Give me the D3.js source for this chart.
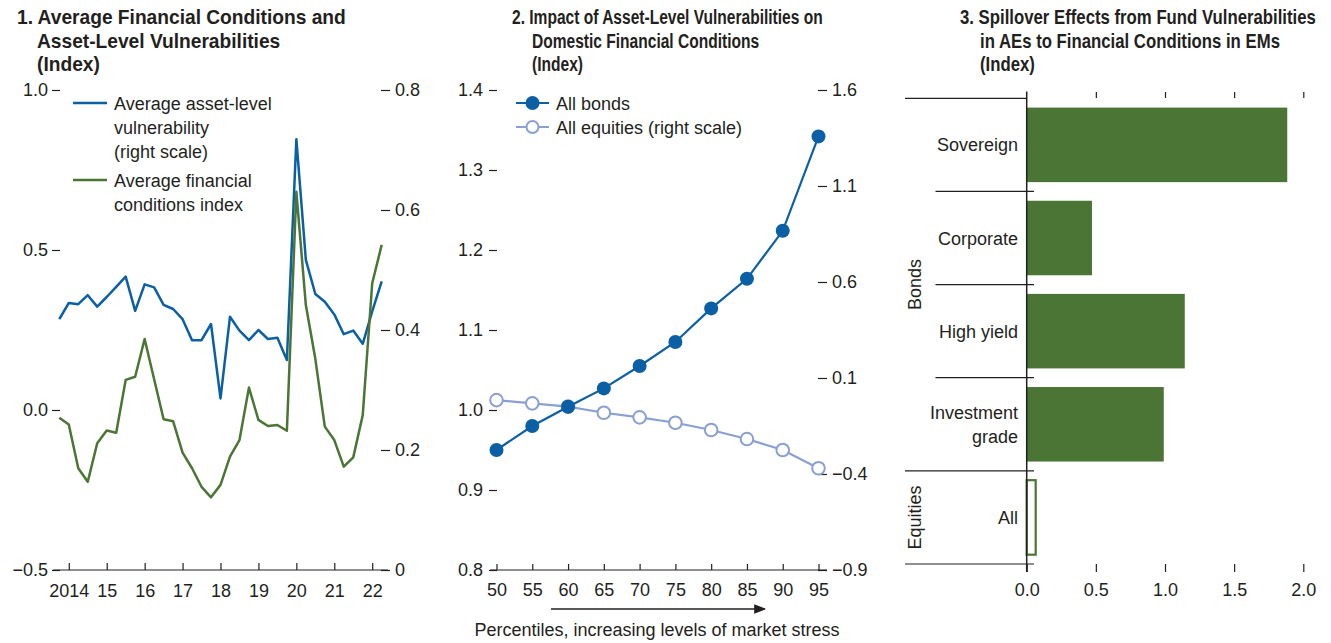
<!DOCTYPE html>
<html>
<head>
<meta charset="utf-8">
<script src="https://cdn.jsdelivr.net/npm/d3@7"></script>
<style>
  body { margin: 0; background: #fff; }
  svg text { font-family: "Liberation Sans Narrow", "Arial Narrow", "Liberation Sans", sans-serif; fill: #231f20; }
  .title { font-weight: bold; font-size: 19.5px; }
  .tick text { font-size: 18px; }
  .lbl { font-size: 18px; }
</style>
</head>
<body>
<div id="chart"></div>
<script>
// Panel 1 data: quarterly, 2013Q4 to 2022Q2
var quarters = ["2013Q4",
  "2014Q1","2014Q2","2014Q3","2014Q4",
  "2015Q1","2015Q2","2015Q3","2015Q4",
  "2016Q1","2016Q2","2016Q3","2016Q4",
  "2017Q1","2017Q2","2017Q3","2017Q4",
  "2018Q1","2018Q2","2018Q3","2018Q4",
  "2019Q1","2019Q2","2019Q3","2019Q4",
  "2020Q1","2020Q2","2020Q3","2020Q4",
  "2021Q1","2021Q2","2021Q3","2021Q4",
  "2022Q1","2022Q2"];
var assetVuln = [0.418,0.445,0.443,0.458,0.439,0.455,0.472,0.489,0.432,0.476,0.471,0.442,0.435,0.418,0.383,0.383,0.410,0.286,0.422,0.399,0.383,0.400,0.385,0.387,0.350,0.718,0.517,0.460,0.447,0.426,0.393,0.399,0.377,0.431,0.481];
var fci = [-0.024,-0.045,-0.182,-0.224,-0.104,-0.064,-0.071,0.094,0.104,0.222,0.096,-0.029,-0.035,-0.133,-0.182,-0.240,-0.273,-0.234,-0.146,-0.094,0.070,-0.031,-0.050,-0.047,-0.065,0.682,0.328,0.160,-0.052,-0.094,-0.177,-0.148,-0.016,0.396,0.516];
var yearTicks = [2014,2015,2016,2017,2018,2019,2020,2021,2022];
var yearLabels = ["2014","15","16","17","18","19","20","21","22"];

// Panel 2 data
var percentiles = [50,55,60,65,70,75,80,85,90,95];
var allBonds = [0.950,0.980,1.004,1.027,1.055,1.085,1.127,1.164,1.224,1.342];
var allEquities = [-0.015,-0.032,-0.049,-0.081,-0.105,-0.133,-0.171,-0.218,-0.275,-0.370];

// Panel 3 data
var spillCats = ["Sovereign","Corporate","High yield","Investment grade","All"];
var spillVals = [1.884,0.472,1.143,0.991,0.065];
var spillGroups = [{name:"Bonds", cats:["Sovereign","Corporate","High yield","Investment grade"]},
                   {name:"Equities", cats:["All"]}];

var blue = "#0b5fa5", green = "#4a7535", lightBlue = "#8aa0d2", ink = "#231f20";

var svg = d3.select("#chart").append("svg")
    .attr("width", 1331).attr("height", 643);

function styleAxis(g) {
  g.select(".domain").remove();
  g.selectAll(".tick line").attr("stroke", ink).attr("stroke-width", 1.2);
}
// titles are squeezed sideways to the reference width (the condensed face is not installed)
function titleBlock(x, lines, firstWidth) {
  var factor = null;
  lines.forEach(function(s, i) {
    var x0 = i == 0 ? x : x + 20, y0 = 24 + i * 23.5;
    var t = svg.append("text").attr("class", "title").text(s);
    var w = t.node().getComputedTextLength();
    if (factor === null) factor = Math.min(1, firstWidth / w);
    t.attr("transform", "translate(" + x0 + "," + y0 + ") scale(" + factor + ",1)");
  });
}

// ---------- Panel 1 ----------
titleBlock(17, ["1. Average Financial Conditions and", "Asset-Level Vulnerabilities", "(Index)"], 329);

var x1 = d3.scaleLinear().domain([2013.75, 2022.25]).range([59.3, 381.7]);
var y1L = d3.scaleLinear().domain([-0.5, 1]).range([570, 90]);
var y1R = d3.scaleLinear().domain([0, 0.8]).range([570, 90]);
var qNum = quarters.map(function(q) { return +q.slice(0, 4) + (+q.slice(5) - 1) / 4; });

svg.append("g").attr("transform", "translate(60,0)")
  .call(d3.axisLeft(y1L).tickValues([-0.5, 0, 0.5, 1]).tickFormat(d3.format(".1f")).tickSize(8).tickPadding(4))
  .call(styleAxis);
svg.append("g").attr("transform", "translate(381,0)")
  .call(d3.axisRight(y1R).tickValues([0, 0.2, 0.4, 0.6, 0.8]).tickFormat(function(d) { return d == 0 ? "0" : d.toFixed(1); }).tickSize(9).tickPadding(5))
  .call(styleAxis);
svg.append("line").attr("x1", 53).attr("x2", 388).attr("y1", 570).attr("y2", 570)
  .attr("stroke", ink).attr("stroke-width", 1.2);
svg.append("g").attr("transform", "translate(0,570)")
  .call(d3.axisBottom(x1).tickValues(yearTicks).tickFormat(function(d, i) { return yearLabels[i]; }).tickSizeInner(-7).tickSizeOuter(0).tickPadding(14))
  .call(styleAxis);

var line1R = d3.line().x(function(d, i) { return x1(qNum[i]); }).y(function(d) { return y1R(d); });
var line1L = d3.line().x(function(d, i) { return x1(qNum[i]); }).y(function(d) { return y1L(d); });
svg.append("path").datum(assetVuln).attr("d", line1R).attr("fill", "none")
  .attr("stroke", blue).attr("stroke-width", 2.5).attr("stroke-linejoin", "round");
svg.append("path").datum(fci).attr("d", line1L).attr("fill", "none")
  .attr("stroke", green).attr("stroke-width", 2.5).attr("stroke-linejoin", "round");

// legend 1
var leg1 = [{c: blue, y: 103, lines: ["Average asset-level", "vulnerability", "(right scale)"]},
            {c: green, y: 180, lines: ["Average financial", "conditions index"]}];
leg1.forEach(function(l) {
  svg.append("line").attr("x1", 73).attr("x2", 107).attr("y1", l.y).attr("y2", l.y)
    .attr("stroke", l.c).attr("stroke-width", 2.5);
  l.lines.forEach(function(s, i) {
    svg.append("text").attr("class", "lbl").attr("x", 114).attr("y", l.y + 6.5 + i * 24).text(s);
  });
});

// ---------- Panel 2 ----------
titleBlock(512, ["2. Impact of Asset-Level Vulnerabilities on", "Domestic Financial Conditions", "(Index)"], 311);

var x2 = d3.scaleLinear().domain([50, 95]).range([496.5, 818.5]);
var y2L = d3.scaleLinear().domain([0.8, 1.4]).range([570, 90]);
var y2R = d3.scaleLinear().domain([-0.9, 1.6]).range([570, 90]);

svg.append("g").attr("transform", "translate(497,0)")
  .call(d3.axisLeft(y2L).tickValues([0.8, 0.9, 1.0, 1.1, 1.2, 1.3, 1.4]).tickFormat(d3.format(".1f")).tickSize(8).tickPadding(6))
  .call(styleAxis);
svg.append("g").attr("transform", "translate(818,0)")
  .call(d3.axisRight(y2R).tickValues([-0.9, -0.4, 0.1, 0.6, 1.1, 1.6]).tickFormat(d3.format(".1f")).tickSize(9).tickPadding(5))
  .call(styleAxis);
svg.append("line").attr("x1", 490).attr("x2", 827).attr("y1", 570).attr("y2", 570)
  .attr("stroke", ink).attr("stroke-width", 1.2);
svg.append("g").attr("transform", "translate(0,570)")
  .call(d3.axisBottom(x2).tickValues(percentiles).tickFormat(d3.format("d")).tickSizeInner(-6).tickSizeOuter(0).tickPadding(13))
  .call(styleAxis);

// arrow + axis title
svg.append("defs").append("marker").attr("id", "arr")
  .attr("viewBox", "0 0 10 10").attr("refX", 9).attr("refY", 5)
  .attr("markerWidth", 8).attr("markerHeight", 8).attr("orient", "auto")
  .append("path").attr("d", "M0,1 L10,5 L0,9 Z").attr("fill", ink);
svg.append("line").attr("x1", 551).attr("x2", 765).attr("y1", 609).attr("y2", 609)
  .attr("stroke", ink).attr("stroke-width", 1.5).attr("marker-end", "url(#arr)");
svg.append("text").attr("class", "lbl").attr("x", 657).attr("y", 636)
  .attr("text-anchor", "middle").text("Percentiles, increasing levels of market stress");

var lineEq = d3.line().x(function(d, i) { return x2(percentiles[i]); }).y(function(d) { return y2R(d); });
var lineBd = d3.line().x(function(d, i) { return x2(percentiles[i]); }).y(function(d) { return y2L(d); });
svg.append("path").datum(allEquities).attr("d", lineEq).attr("fill", "none")
  .attr("stroke", lightBlue).attr("stroke-width", 2.2);
svg.append("g").selectAll("circle").data(allEquities).enter().append("circle")
  .attr("cx", function(d, i) { return x2(percentiles[i]); })
  .attr("cy", function(d) { return y2R(d); })
  .attr("r", 6.3).attr("fill", "#fff").attr("stroke", lightBlue).attr("stroke-width", 2);
svg.append("path").datum(allBonds).attr("d", lineBd).attr("fill", "none")
  .attr("stroke", blue).attr("stroke-width", 2.2);
svg.append("g").selectAll("circle").data(allBonds).enter().append("circle")
  .attr("cx", function(d, i) { return x2(percentiles[i]); })
  .attr("cy", function(d) { return y2L(d); })
  .attr("r", 7).attr("fill", blue);

// legend 2
[{c: blue, fill: blue, y: 103, t: "All bonds"}, {c: lightBlue, fill: "#fff", y: 127, t: "All equities (right scale)"}]
.forEach(function(l) {
  svg.append("line").attr("x1", 516).attr("x2", 549).attr("y1", l.y).attr("y2", l.y)
    .attr("stroke", l.c).attr("stroke-width", 2.2);
  svg.append("circle").attr("cx", 532.5).attr("cy", l.y).attr("r", l.fill == "#fff" ? 6 : 7)
    .attr("fill", l.fill).attr("stroke", l.fill == "#fff" ? l.c : "none").attr("stroke-width", 2);
  svg.append("text").attr("class", "lbl").attr("x", 556).attr("y", l.y + 6.5).text(l.t);
});

// ---------- Panel 3 ----------
titleBlock(960, ["3. Spillover Effects from Fund Vulnerabilities", "in AEs to Financial Conditions in EMs", "(Index)"], 356);

var x3 = d3.scaleLinear().domain([0, 2]).range([1026.7, 1303.3]);
var y3 = d3.scaleBand().domain(spillCats).range([98.3, 564]).paddingInner(0.2).paddingOuter(0.1);

svg.append("g").attr("transform", "translate(0,98)")
  .call(d3.axisTop(x3).tickValues([0.5, 1, 1.5, 2]).tickSizeInner(6).tickSizeOuter(0).tickFormat(""))
  .call(styleAxis);
svg.append("g").attr("transform", "translate(0,564)")
  .call(d3.axisBottom(x3).tickValues([0, 0.5, 1, 1.5, 2]).tickFormat(d3.format(".1f")).tickSizeInner(8).tickSizeOuter(0).tickPadding(11))
  .call(styleAxis);

svg.append("g").selectAll("rect").data(spillCats).enter().append("rect")
  .attr("x", x3(0))
  .attr("y", function(d) { return y3(d); })
  .attr("width", function(d, i) { return x3(spillVals[i]) - x3(0); })
  .attr("height", y3.bandwidth())
  .attr("fill", function(d) { return d == "All" ? "#fff" : green; })
  .attr("stroke", function(d) { return d == "All" ? green : "none"; })
  .attr("stroke-width", 2.2);

// separators between categories and groups
var step = y3.step(), top3 = 98.3;
spillCats.forEach(function(c, i) {
  if (i == 0) return;
  var isGroupEdge = spillGroups[1].cats[0] == c;
  svg.append("line").attr("x1", isGroupEdge ? 905 : 935.5).attr("x2", 1034)
    .attr("y1", top3 + i * step).attr("y2", top3 + i * step)
    .attr("stroke", ink).attr("stroke-width", 1.2);
});
svg.append("line").attr("x1", 905).attr("x2", 1026.7).attr("y1", top3).attr("y2", top3)
  .attr("stroke", ink).attr("stroke-width", 1.2);
svg.append("line").attr("x1", 905).attr("x2", 1034).attr("y1", 564).attr("y2", 564)
  .attr("stroke", ink).attr("stroke-width", 1.2);
svg.append("line").attr("x1", x3(0)).attr("x2", x3(0)).attr("y1", 91.5).attr("y2", 572)
  .attr("stroke", ink).attr("stroke-width", 1.5);

// category labels
spillCats.forEach(function(c) {
  var cy = y3(c) + y3.bandwidth() / 2;
  var parts = c == "Investment grade" ? ["Investment", "grade"] : [c];
  parts.forEach(function(p, j) {
    svg.append("text").attr("class", "lbl").attr("x", 1018).attr("text-anchor", "end")
      .attr("y", cy + 6.5 + (j - (parts.length - 1) / 2) * 24).text(p);
  });
});
// group labels
spillGroups.forEach(function(g) {
  var y0 = y3(g.cats[0]) - step * 0.1, yEnd = y3(g.cats[g.cats.length - 1]) + y3.bandwidth() + step * 0.1;
  var cy = (y0 + yEnd) / 2;
  svg.append("text").attr("class", "lbl").attr("text-anchor", "middle")
    .attr("transform", "translate(921," + cy + ") rotate(-90)").text(g.name);
});
</script>
</body>
</html>
